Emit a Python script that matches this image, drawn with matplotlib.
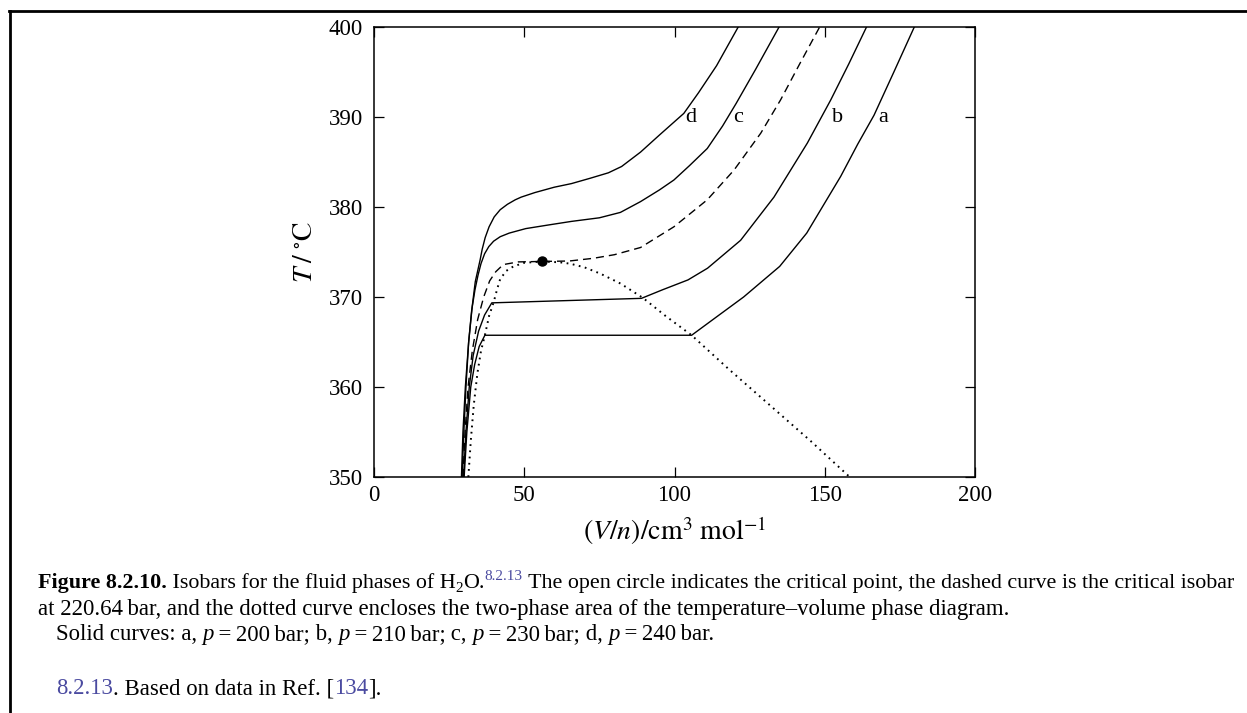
import matplotlib
matplotlib.use("Agg")
import matplotlib.pyplot as plt
from matplotlib.lines import Line2D

W, H = 1247, 713

# isobar a, p = 200 bar
a_v = [30.0, 30.9, 32.2, 33.5, 35.0, 36.9, 105.7, 112.0, 123.0, 135.0, 144.0, 149.2,
       155.3, 161.0, 166.4, 173.0, 179.8]
a_t = [350, 355, 360, 362.5, 364.5, 365.75, 365.75, 367.3, 370.0, 373.4, 377.1, 380.0,
       383.4, 387.0, 390.2, 395.0, 400]

# isobar b, p = 210 bar
b_v = [29.8, 30.6, 31.7, 33.0, 34.8, 36.8, 39.2, 89.0, 96.0, 104.5, 111.0, 122.0,
       133.1, 144.2, 152.0, 158.0, 163.9]
b_t = [350, 355, 360, 363.5, 366.2, 368.0, 369.35, 369.85, 370.8, 371.9, 373.2, 376.3,
       381.1, 387.1, 391.9, 395.9, 400]

# isobar c, p = 230 bar
c_v = [29.3, 29.9, 30.6, 31.5, 32.5, 33.6, 34.6, 35.6, 36.8, 38.2, 39.8, 42.0, 45.0,
       50.5, 58.0, 65.7, 75.0, 82.0, 88.7, 95.0, 99.8, 105.0, 110.9, 116.0, 120.5,
       127.0, 134.8]
c_t = [350, 355, 360, 365, 368.5, 370.8, 372.4, 373.7, 374.8, 375.6, 376.2, 376.7, 377.1,
       377.6, 378.0, 378.4, 378.8, 379.4, 380.6, 381.9, 383.0, 384.6, 386.5, 389.0, 391.5,
       395.3, 400]

# isobar d, p = 240 bar
d_v = [29.1, 29.6, 30.4, 31.5, 32.7, 33.7, 34.5, 35.3, 36.0, 37.0, 38.3, 40.0, 42.0,
       44.4, 47.0, 49.0, 53.5, 60.0, 65.7, 72.0, 78.0, 82.4, 88.7, 95.0, 103.1, 108.0,
       114.0, 121.2]
d_t = [350, 355, 360, 365, 369, 371.7, 372.9, 374.1, 375.3, 376.6, 377.8, 378.9, 379.7,
       380.3, 380.8, 381.1, 381.6, 382.2, 382.6, 383.2, 383.8, 384.5, 386.1, 388.0, 390.4,
       392.7, 395.7, 400]

# critical isobar, 220.64 bar
crit_v = [29.6, 30.3, 31.3, 32.7, 34.5, 36.5, 38.5, 40.5, 43.0, 48.0, 56.0, 65.0, 73.0,
          80.0, 88.7, 99.8, 110.9, 119.8, 128.7, 135.3, 141.5, 148.3]
crit_t = [350, 355, 360, 364, 367.5, 370, 371.8, 372.8, 373.6, 373.9, 373.95, 374.0, 374.3,
          374.7, 375.5, 377.8, 380.8, 384.1, 388.2, 391.9, 395.8, 400]

# two-phase boundary
sat_v = [31.4, 32.2, 33.2, 34.4, 35.6, 36.9, 38.3, 39.8, 41.0, 42.0, 44.0, 46.4, 50.0,
         56.0, 62.0, 65.3, 70.0, 75.3, 82.0, 89.5, 97.0, 105.7, 118.0, 132.0, 145.3, 158.3]
sat_t = [350, 354, 358, 361.5, 364.0, 365.75, 367.9, 369.4, 370.9, 372.0, 372.9, 373.4,
         373.8, 373.95, 373.85, 373.7, 373.3, 372.6, 371.5, 369.9, 367.9, 365.75, 362.0,
         357.9, 354.0, 350]

critical_v, critical_t = 56.0, 373.95

curve_labels = ["a", "b", "c", "d"]
label_v = [169.6, 154.4, 121.3, 105.3]
label_t = [390.0, 390.0, 390.0, 390.0]

x_ticks = [0, 50, 100, 150, 200]
y_ticks = [350, 360, 370, 380, 390, 400]

SERIF = "Liberation Serif"
LINK = "#4a4aa0"

plt.rcParams["font.family"] = SERIF
plt.rcParams["mathtext.fontset"] = "stix"


def write_runs(fig, renderer, x_px, y_px, runs, size=16):
    for text, style in runs:
        style = dict(style)
        rise = style.pop("rise", 0)
        fs = style.pop("size", size)
        t = fig.text(x_px / W, 1 - (y_px - rise) / H, text, ha="left", va="baseline",
                     fontsize=fs, family=SERIF, **style)
        x_px += t.get_window_extent(renderer).width


fig = plt.figure(figsize=(W / 100, H / 100), dpi=100)
ax = fig.add_axes([374 / W, 1 - 477 / H, 601 / W, 450 / H])

ax.plot(a_v, a_t, color="k", lw=1.0)
ax.plot(b_v, b_t, color="k", lw=1.0)
ax.plot(c_v, c_t, color="k", lw=1.0)
ax.plot(d_v, d_t, color="k", lw=1.0)
ax.plot(crit_v, crit_t, color="k", lw=1.0, linestyle=(0, (5.8, 3.6)))
ax.plot(sat_v, sat_t, color="k", lw=1.4, linestyle=(0, (0.9, 2.3)))
ax.plot([critical_v], [critical_t], "o", color="k", ms=6.5, zorder=5)

for name, v, t in zip(curve_labels, label_v, label_t):
    ax.text(v, t, name, ha="center", va="center", fontsize=16)

ax.set_xlim(0, 200)
ax.set_ylim(350, 400)
ax.set_xticks(x_ticks)
ax.set_yticks(y_ticks)
ax.tick_params(direction="in", length=7, width=0.9, top=True, right=True,
               labelsize=16.5, pad=6)
ax.tick_params(axis="y", pad=8)
for side in ax.spines.values():
    side.set_linewidth(1.1)

ax.set_xlabel(r"$(V/n)/\mathrm{cm}^{3}\ \mathrm{mol}^{-1}$", fontsize=20, labelpad=6)
ax.set_ylabel(r"$T\;/\;{}^{\circ}\mathrm{C}$", fontsize=20, labelpad=8)

# page frame
fig.add_artist(Line2D([9 / W, 1], [1 - 11 / H, 1 - 11 / H], transform=fig.transFigure,
                      color="k", lw=2.0))
fig.add_artist(Line2D([10 / W, 10 / W], [0, 1 - 11 / H], transform=fig.transFigure,
                      color="k", lw=2.0))

renderer = fig.canvas.get_renderer()
sub = {"size": 11, "rise": -4.5}
sup = {"size": 11, "rise": 8, "color": LINK}
write_runs(fig, renderer, 38, 588, [
    ("Figure 8.2.10.", {"weight": "bold"}),
    (" Isobars for the fluid phases of H", {}),
    ("2", sub),
    ("O.", {}),
    ("8.2.13", sup),
    (" The open circle indicates the critical point, the dashed curve is the critical isobar", {}),
], size=15.8)
write_runs(fig, renderer, 38, 615, [
    ("at 220.64\u2009bar, and the dotted curve encloses the two-phase area of the "
     "temperature\u2013volume phase diagram.", {}),
], size=16.4)
runs = [("Solid curves: a, ", {})]
for lab, p in zip(["a", "b", "c", "d"], [200, 210, 230, 240]):
    if lab != "a":
        runs.append((f" {lab}, ", {}))
    runs.append(("p", {"style": "italic"}))
    runs.append((f"\u2009=\u2009{p}\u2009bar" + ("." if lab == "d" else ";"), {}))
write_runs(fig, renderer, 56, 640, runs, size=16.4)
write_runs(fig, renderer, 56, 694, [
    ("8.2.13", {"color": LINK}),
    (". Based on data in Ref. [", {}),
    ("134", {"color": LINK}),
    ("].", {}),
], size=16.4)

fig.savefig("out.png", dpi=100)
